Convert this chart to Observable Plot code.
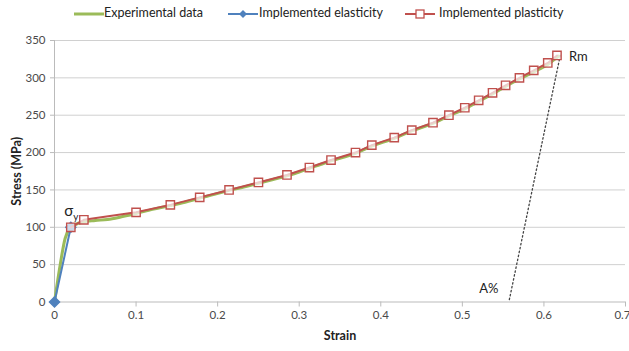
<!DOCTYPE html>
<html>
<head>
<meta charset="utf-8">
<script src="https://cdn.jsdelivr.net/npm/d3@7"></script>
<script src="https://cdn.jsdelivr.net/npm/@observablehq/plot@0.6"></script>
<style>
  html, body { margin: 0; padding: 0; background: #fff; }
  #wrap { width: 629px; font-family: Lato, "Open Sans", sans-serif; }
  #legend { position: relative; height: 28px; font-size: 12.5px; color: #222; }
  #legend .sw { position: absolute; top: 9px; }
  #legend .lb { position: absolute; top: 5px; white-space: nowrap; }
  g[aria-label="x-axis label"] text, g[aria-label="y-axis label"] text { font-weight: bold; font-size: 12.5px; fill: #222; }
  g[aria-label="x-axis tick label"] text, g[aria-label="y-axis tick label"] text { fill: #4a4a4a; }
</style>
</head>
<body>
<div id="wrap">
  <div id="legend"></div>
  <div id="chart"></div>
</div>
<script>
// ---- data ----
const expStrain = [0, 0.002, 0.007, 0.013, 0.019, 0.026, 0.035, 0.05, 0.065, 0.08, 0.1, 0.12, 0.142, 0.16, 0.178, 0.196, 0.214, 0.232, 0.25, 0.268, 0.285, 0.3, 0.3125, 0.326, 0.339, 0.355, 0.369, 0.389, 0.4165, 0.438, 0.464, 0.4835, 0.503, 0.52, 0.537, 0.553, 0.57, 0.5875, 0.6047, 0.618];
const expStress = [0, 15, 50, 85, 99, 104, 107, 109, 110.5, 113.5, 118.5, 124, 129, 133.5, 139, 144, 149.5, 154, 159, 164, 169, 174, 179, 184, 189, 194, 199, 208.5, 219, 229, 239, 249, 258.5, 268.5, 278.5, 288.5, 298.5, 308, 318, 329];

const elastStrain = [0, 0.02];
const elastStress = [0, 100];

const plastStrain = [0.02, 0.036, 0.1, 0.142, 0.178, 0.214, 0.25, 0.285, 0.3125, 0.339, 0.369, 0.389, 0.4165, 0.438, 0.464, 0.4835, 0.503, 0.52, 0.537, 0.553, 0.57, 0.5875, 0.6047, 0.616];
const plastStress = [100, 110, 120, 130, 140, 150, 160, 170, 180, 190, 200, 210, 220, 230, 240, 250, 260, 270, 280, 290, 300, 310, 320, 330];

const elongStrain = [0.62, 0.557];
const elongStress = [330, 0];

const xTicks = [0, 0.1, 0.2, 0.3, 0.4, 0.5, 0.6, 0.7];
const yTicks = [0, 50, 100, 150, 200, 250, 300, 350];

const seriesNames = ["Experimental data", "Implemented elasticity", "Implemented plasticity"];
const colors = ["#9BBB59", "#4F81BD", "#C0504D"];

// ---- tables ----
const exp = expStrain.map((x, i) => ({x, y: expStress[i]}));
const elast = elastStrain.map((x, i) => ({x, y: elastStress[i]}));
const plast = plastStrain.map((x, i) => ({x, y: plastStress[i]}));
const elong = elongStrain.map((x, i) => ({x, y: elongStress[i]}));
const rm = [plast[plast.length - 1]];
const sy = [plast[0]];
const aPct = [elong[1]];
const lastTick = xTicks[xTicks.length - 1];

// ---- legend ----
const legend = document.getElementById("legend");
const legendLayout = [
  {sw: 74, lb: 104},
  {sw: 228, lb: 259},
  {sw: 405, lb: 439}
];
seriesNames.forEach((name, i) => {
  const ns = "http://www.w3.org/2000/svg";
  const svg = document.createElementNS(ns, "svg");
  svg.setAttribute("width", 30); svg.setAttribute("height", 10);
  svg.setAttribute("class", "sw");
  svg.style.left = legendLayout[i].sw + "px";
  const line = document.createElementNS(ns, "line");
  line.setAttribute("x1", 0); line.setAttribute("x2", 30);
  line.setAttribute("y1", 5); line.setAttribute("y2", 5);
  line.setAttribute("stroke", colors[i]);
  line.setAttribute("stroke-width", i === 0 ? 3 : 2);
  svg.appendChild(line);
  if (i === 1) {
    const p = document.createElementNS(ns, "path");
    p.setAttribute("d", "M15,1L19,5L15,9L11,5Z");
    p.setAttribute("fill", colors[1]);
    svg.appendChild(p);
  } else if (i === 2) {
    const r = document.createElementNS(ns, "rect");
    r.setAttribute("x", 11); r.setAttribute("y", 1);
    r.setAttribute("width", 8); r.setAttribute("height", 8);
    r.setAttribute("fill", "white"); r.setAttribute("stroke", colors[2]);
    r.setAttribute("stroke-width", 1.3);
    svg.appendChild(r);
  }
  legend.appendChild(svg);
  const lb = document.createElement("span");
  lb.className = "lb";
  lb.style.left = legendLayout[i].lb + "px";
  lb.textContent = name;
  legend.appendChild(lb);
});

// ---- chart ----
const chart = Plot.plot({
  width: 629,
  height: 323,
  marginTop: 12,
  marginBottom: 49.5,
  marginLeft: 54,
  marginRight: 4,
  style: {fontFamily: "Lato, 'Open Sans', sans-serif", fontSize: "11.5px", overflow: "visible"},
  x: {domain: [0, 0.7], ticks: xTicks, tickSize: 5, tickPadding: 4, label: "Strain", labelAnchor: "center", labelOffset: 38, labelArrow: false},
  y: {domain: [0, 350], ticks: yTicks, tickSize: 4, tickPadding: 6, label: "Stress (MPa)", labelAnchor: "center", labelOffset: 42, labelArrow: false},
  marks: [
    Plot.ruleY(yTicks.filter(d => d > 0), {stroke: "#D0D0D0", strokeWidth: 1}),
    Plot.axisX({ticks: xTicks, tickSize: 5, stroke: "#BBBBBB", tickFormat: d => d === lastTick ? "" : String(d), label: "Strain", labelAnchor: "center", labelOffset: 38, labelArrow: false}),
    Plot.axisX({ticks: [lastTick], tickSize: 0, tickFormat: d => String(d), textAnchor: "end", dx: 5, label: null}),
    Plot.axisY({ticks: yTicks, tickSize: 4, stroke: "#BBBBBB", label: "Stress (MPa)", labelAnchor: "center", labelOffset: 42, labelArrow: false}),
    Plot.ruleY([0], {stroke: "#BBBBBB"}),
    Plot.ruleX([0], {stroke: "#BBBBBB"}),
    Plot.line(elong, {x: "x", y: "y", stroke: "#444", strokeWidth: 1.3, strokeDasharray: "1.5,2.5"}),
    Plot.line(exp, {x: "x", y: "y", stroke: colors[0], strokeWidth: 3, curve: "monotone-x"}),
    Plot.line(elast, {x: "x", y: "y", stroke: colors[1], strokeWidth: 2}),
    Plot.dot(elast, {x: "x", y: "y", symbol: "diamond2", r: 4.5, fill: colors[1], stroke: colors[1]}),
    Plot.line(plast, {x: "x", y: "y", stroke: colors[2], strokeWidth: 2}),
    Plot.dot(plast, {x: "x", y: "y", symbol: "square", r: 4.7, fill: "white", fillOpacity: 0.7, stroke: colors[2], strokeWidth: 1.4}),
    Plot.text(sy, {x: "x", y: "y", text: () => "σ", dx: -2, dy: -16, fontSize: 15, fill: "#222"}),
    Plot.text(sy, {x: "x", y: "y", text: () => "y", dx: 5, dy: -10, fontSize: 10, fill: "#222"}),
    Plot.text(rm, {x: "x", y: "y", text: () => "Rm", dx: 12, dy: 1, textAnchor: "start", fontSize: 13, fill: "#222"}),
    Plot.text(aPct, {x: "x", y: "y", text: () => "A%", dx: -20, dy: -13, fontSize: 13, fill: "#222"})
  ]
});
document.getElementById("chart").appendChild(chart);
</script>
</body>
</html>
